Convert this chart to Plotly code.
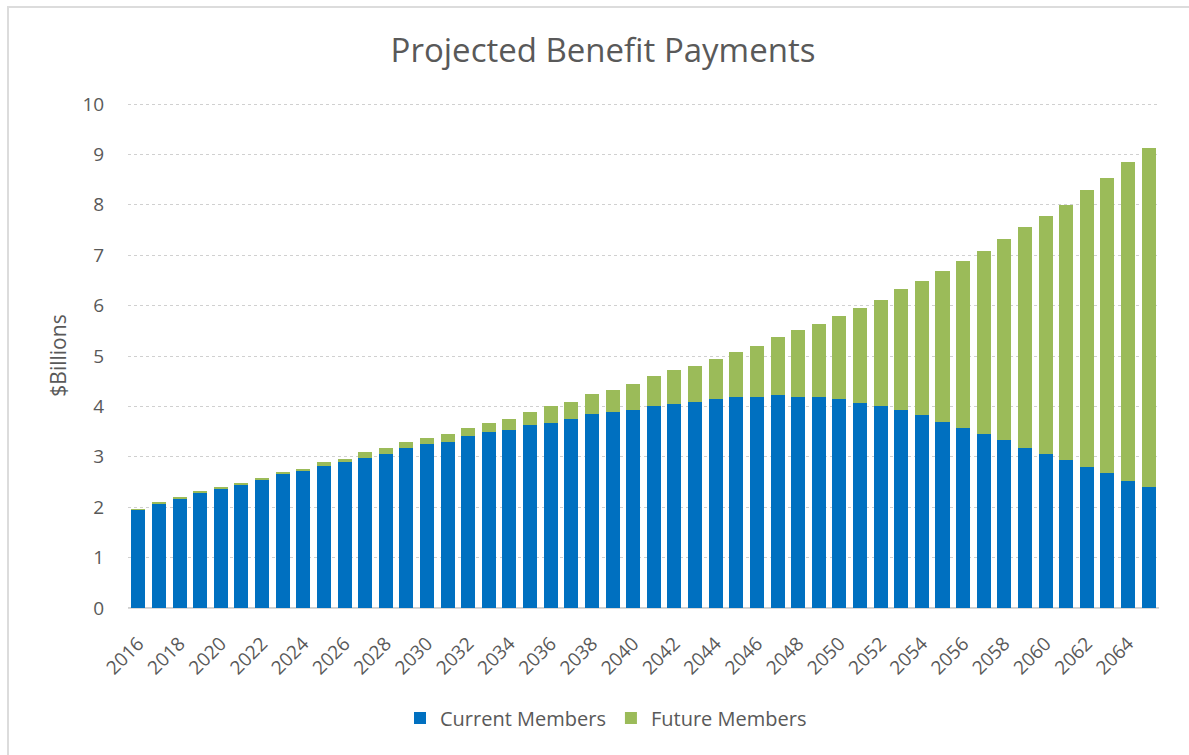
import plotly.graph_objects as go

years = [str(y) for y in range(2016, 2066)]
current_members = [1.95, 2.07, 2.17, 2.30, 2.37, 2.45, 2.53, 2.66, 2.73, 2.82,
                   2.89, 2.97, 3.05, 3.17, 3.25, 3.29, 3.41, 3.49, 3.53, 3.64,
                   3.68, 3.76, 3.84, 3.88, 3.92, 4.00, 4.04, 4.08, 4.15, 4.19,
                   4.19, 4.23, 4.19, 4.19, 4.15, 4.07, 4.00, 3.93, 3.83, 3.70,
                   3.58, 3.46, 3.34, 3.18, 3.06, 2.94, 2.79, 2.67, 2.52, 2.40]
total_payments = [1.96, 2.11, 2.21, 2.33, 2.41, 2.49, 2.57, 2.70, 2.76, 2.89,
                  2.96, 3.09, 3.17, 3.29, 3.37, 3.45, 3.57, 3.68, 3.76, 3.88,
                  4.00, 4.08, 4.24, 4.32, 4.44, 4.60, 4.72, 4.80, 4.95, 5.07,
                  5.19, 5.38, 5.51, 5.63, 5.79, 5.95, 6.11, 6.32, 6.48, 6.69,
                  6.89, 7.09, 7.32, 7.55, 7.78, 8.00, 8.29, 8.53, 8.85, 9.13]
future_members = [round(t - c, 3) for t, c in zip(total_payments, current_members)]
tick_years = years[::2]

font_family = "Open Sans, Liberation Sans, sans-serif"
text_color = "#595959"

ML, MR, MT, MB = 128, 30, 103, 147
PW = 1189 - ML - MR
PH = 755 - MT - MB

fig = go.Figure()
fig.add_trace(go.Bar(x=years, y=current_members, name="Current Members",
                     marker=dict(color="#0070C0", line=dict(width=0))))
fig.add_trace(go.Bar(x=years, y=future_members, name="Future Members",
                     marker=dict(color="#9BBB59", line=dict(width=0))))

fig.update_layout(
    barmode="stack",
    bargap=0.32,
    width=1189, height=755,
    paper_bgcolor="white", plot_bgcolor="white",
    margin=dict(l=ML, r=MR, t=MT, b=MB, autoexpand=False),
    font=dict(family=font_family, color=text_color, size=16),
    title=dict(text="Projected Benefit Payments", x=603/1189, xanchor="center",
               y=1 - 50/755, yanchor="middle",
               font=dict(size=33, color=text_color, family=font_family)),
    legend=dict(orientation="h", x=(606 - ML)/PW, xanchor="center",
                y=-(718 - (MT + PH))/PH, yanchor="middle",
                font=dict(size=20, color=text_color), traceorder="normal"),
    showlegend=True,
)
fig.update_xaxes(type="category", tickmode="array", tickvals=tick_years, ticktext=tick_years,
                 tickangle=-45, showgrid=False, showline=True, linecolor="#D9D9D9",
                 ticks="outside", ticklen=16, tickcolor="rgba(0,0,0,0)", automargin=False,
                 tickfont=dict(size=19, color=text_color))
fig.update_yaxes(range=[0, 10.02], tickvals=list(range(0, 11)), showgrid=True, gridcolor="#D0D0D0",
                 griddash="dot", zeroline=True, zerolinecolor="#D0D0D0",
                 ticks="outside", ticklen=19, tickcolor="rgba(0,0,0,0)", automargin=False,
                 tickfont=dict(size=19, color=text_color),
                 title=dict(text="$Billions", font=dict(size=21, color=text_color), standoff=10))
fig.add_shape(type="rect", xref="paper", yref="paper",
              x0=-(ML - 8)/PW, x1=(1189 - ML + 10)/PW, y0=-(MB + 10)/PH, y1=1 + (MT - 7)/PH,
              line=dict(color="#DCDCDC", width=2), fillcolor="rgba(0,0,0,0)", layer="below")

fig.write_html("out.html", config={"displayModeBar": False},
               post_script="document.body.style.margin='0';document.body.style.padding='0';")
